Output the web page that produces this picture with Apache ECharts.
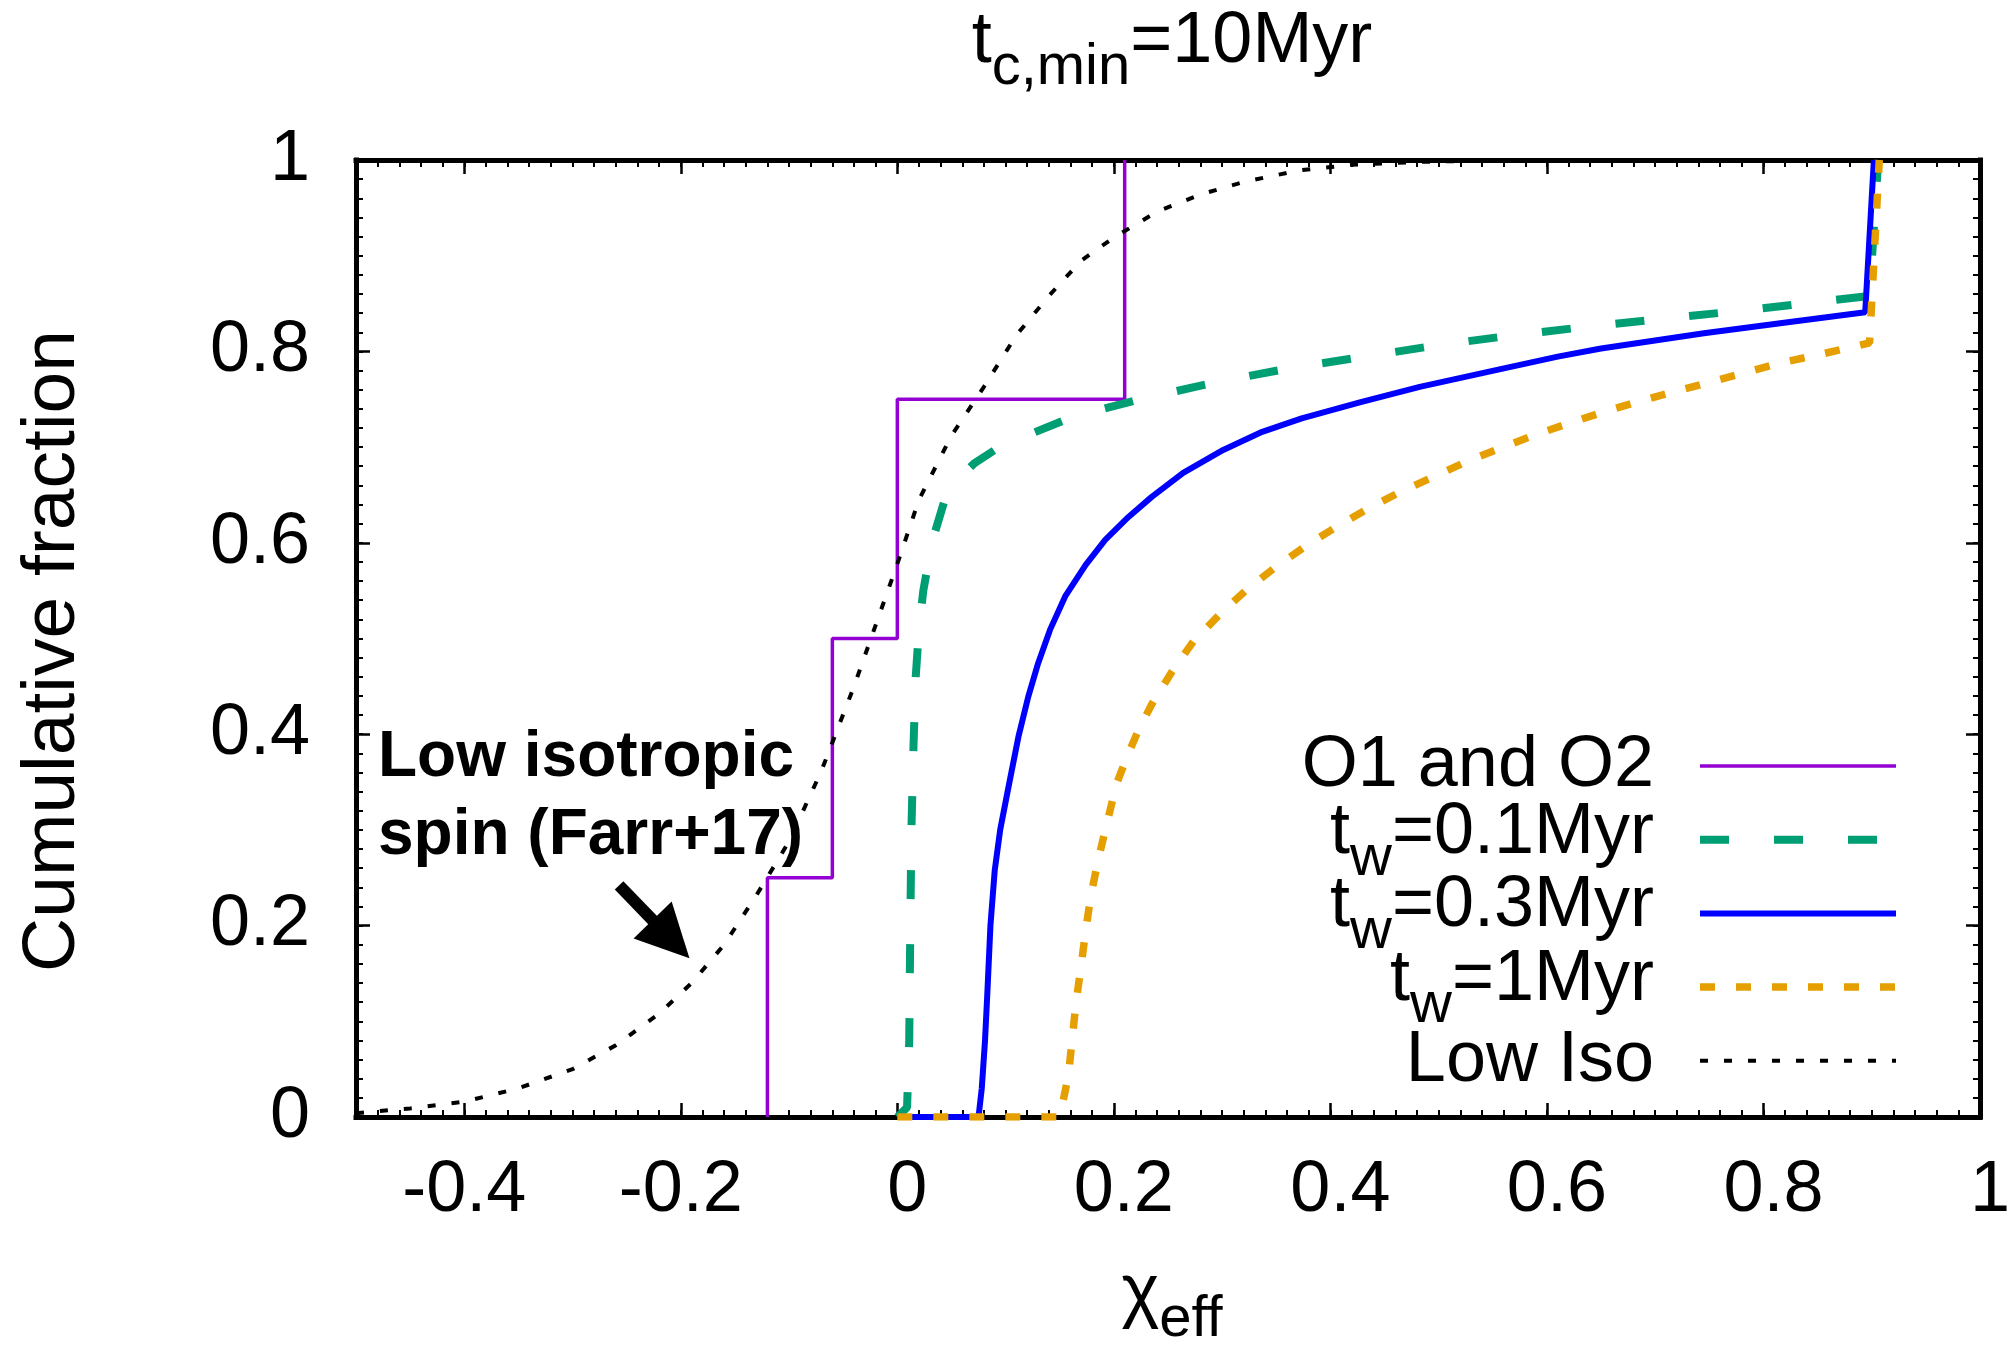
<!DOCTYPE html>
<html>
<head>
<meta charset="utf-8">
<title>t_c,min=10Myr</title>
<script src="https://cdn.jsdelivr.net/npm/echarts@6/dist/echarts.min.js"></script>
<style>
  html, body { margin: 0; padding: 0; background: #fff; }
  #chart { width: 2013px; height: 1347px; }
</style>
</head>
<body>
<div id="chart"></div>
<script>
const FONT = '"Liberation Sans", Arial, Helvetica, sans-serif';

// tick labels
const xTickVals = [-0.4, -0.2, 0, 0.2, 0.4, 0.6, 0.8, 1];
const yTickVals = [0, 0.2, 0.4, 0.6, 0.8, 1];

// O1 and O2 events (chi_eff), each one adds 1/4
const o1o2Chi = [-0.12, -0.06, 0.0, 0.21];

// t_w = 0.1 Myr
const tw01X = [0.0, 0.009, 0.011, 0.012, 0.013, 0.015, 0.017, 0.020, 0.024, 0.028, 0.035, 0.043, 0.055, 0.071, 0.090,
  0.1063, 0.1627, 0.228, 0.2953, 0.3608, 0.4316, 0.5025, 0.5698, 0.6388, 0.715, 0.784, 0.852, 0.898, 0.906];
const tw01Y = [0.0, 0.01, 0.08, 0.20, 0.30, 0.39, 0.46, 0.51, 0.55, 0.575, 0.612, 0.642, 0.665, 0.683, 0.697,
  0.706, 0.732, 0.751, 0.768, 0.782, 0.7945, 0.807, 0.817, 0.826, 0.835, 0.843, 0.852, 0.858, 1.0];

// t_w = 0.3 Myr
const tw03X = [0.0, 0.075, 0.078, 0.081, 0.083, 0.086, 0.090, 0.095, 0.1027, 0.1118, 0.1209, 0.130, 0.141, 0.155,
  0.174, 0.192, 0.2135, 0.235, 0.264, 0.301, 0.337, 0.3735, 0.428, 0.4825, 0.555, 0.610, 0.650, 0.745, 0.819,
  0.894, 0.902];
const tw03Y = [0.0, 0.0, 0.03, 0.08, 0.126, 0.200, 0.258, 0.300, 0.345, 0.397, 0.439, 0.474, 0.509, 0.544,
  0.577, 0.603, 0.627, 0.648, 0.673, 0.697, 0.716, 0.730, 0.747, 0.763, 0.781, 0.7945, 0.803, 0.819, 0.830,
  0.841, 1.0];

// t_w = 1 Myr
const tw1X = [0.0, 0.150, 0.158, 0.165, 0.170, 0.174, 0.179, 0.186, 0.1936, 0.2027, 0.2135, 0.2226, 0.2354, 0.2535,
  0.2735, 0.2971, 0.3226, 0.3498, 0.379, 0.4062, 0.4352, 0.4643, 0.4952, 0.5261, 0.557, 0.5897, 0.6206, 0.653,
  0.686, 0.718, 0.751, 0.784, 0.816, 0.849, 0.884, 0.898, 0.907];
const tw1Y = [0.0, 0.0, 0.043, 0.119, 0.160, 0.195, 0.233, 0.271, 0.307, 0.349, 0.380, 0.404, 0.432, 0.465,
  0.497, 0.5245, 0.551, 0.575, 0.598, 0.617, 0.636, 0.653, 0.669, 0.685, 0.699, 0.713, 0.725, 0.737,
  0.748, 0.758, 0.768, 0.778, 0.788, 0.796, 0.805, 0.809, 1.0];

// low isotropic spin (Farr+17)
const lowIsoX = [-0.5, -0.45, -0.40, -0.35, -0.30, -0.26, -0.22, -0.19, -0.16, -0.13, -0.10, -0.07, -0.04, -0.02,
  0.0, 0.02, 0.05, 0.08, 0.11, 0.14, 0.17, 0.20, 0.24, 0.28, 0.32, 0.37, 0.42, 0.48, 0.55, 0.65];
const lowIsoY = [0.004, 0.009, 0.016, 0.030, 0.050, 0.075, 0.108, 0.140, 0.180, 0.232, 0.288, 0.362, 0.450, 0.514,
  0.578, 0.645, 0.712, 0.763, 0.817, 0.858, 0.895, 0.919, 0.946, 0.964, 0.977, 0.989, 0.995, 0.998, 0.9995, 1.0];

// annotation arrow, data coords
const arrowFrom = [-0.257, 0.242];
const arrowTo = [-0.192, 0.166];

function pairs(xs, ys) {
  return xs.map((x, i) => [x, ys[i]]);
}

// cumulative step line for the observed events
const o1o2Pts = [];
o1o2Chi.forEach((x, i) => {
  o1o2Pts.push([x, i / o1o2Chi.length], [x, (i + 1) / o1o2Chi.length]);
});

const styles = {
  'O1 and O2': { color: '#9400d3', width: 3.5, type: 'solid' },
  't_w=0.1Myr': { color: '#009e73', width: 8, type: [29, 45] },
  't_w=0.3Myr': { color: '#0000ff', width: 6, type: 'solid' },
  't_w=1Myr': { color: '#e69f00', width: 7.5, type: [15, 21] },
  'Low Iso': { color: '#000000', width: 4, type: [8, 16] }
};
const legendText = {
  'O1 and O2': '{e|O1 and O2}',
  't_w=0.1Myr': '{a|t}{b|w}{c|=0.1Myr}',
  't_w=0.3Myr': '{a|t}{b|w}{c|=0.3Myr}',
  't_w=1Myr': '{a|t}{b|w}{c|=1Myr}',
  'Low Iso': '{e|Low Iso}'
};

function lineSeries(name, data) {
  return {
    name: name,
    type: 'line',
    data: data,
    symbol: 'none',
    showSymbol: false,
    xAxisIndex: 0,
    yAxisIndex: 0,
    lineStyle: styles[name],
    itemStyle: { color: styles[name].color },
    emphasis: { disabled: true }
  };
}

// gnuplot style numbers: positive x labels carry a leading blank
function fmtX(v) {
  const s = String(Math.round(v * 10) / 10);
  return v >= 0 ? ' ' + s : s;
}

function xAx(pos, major, labels) {
  return {
    type: 'value', position: pos, min: -0.5, max: 1, interval: 0.02,
    axisLine: { show: !major, onZero: false, lineStyle: { color: '#000', width: 5, cap: 'square' } },
    axisTick: major
      ? { show: true, inside: true, length: 14, customValues: xTickVals, lineStyle: { color: '#000', width: 2.5 } }
      : { show: true, inside: true, length: 7, lineStyle: { color: '#000', width: 2 } },
    axisLabel: labels
      ? { show: true, customValues: xTickVals, margin: 38, color: '#000', fontSize: 72, fontFamily: FONT,
          formatter: fmtX }
      : { show: false },
    splitLine: { show: false }
  };
}
function yAx(pos, major, labels) {
  return {
    type: 'value', position: pos, min: 0, max: 1, interval: 0.02,
    axisLine: { show: !major, onZero: false, lineStyle: { color: '#000', width: 5, cap: 'square' } },
    axisTick: major
      ? { show: true, inside: true, length: 14, customValues: yTickVals, lineStyle: { color: '#000', width: 2.5 } }
      : { show: true, inside: true, length: 7, lineStyle: { color: '#000', width: 2 } },
    axisLabel: labels
      ? { show: true, customValues: yTickVals, margin: 46, color: '#000', fontSize: 72, fontFamily: FONT,
          formatter: v => String(Math.round(v * 10) / 10) }
      : { show: false },
    splitLine: { show: false }
  };
}

const subRich = {
  t: { fontSize: 72, fontFamily: FONT, lineHeight: 72, fill: '#000' },
  s: { fontSize: 58, fontFamily: FONT, lineHeight: 72, padding: [52, 0, 0, 0], fill: '#000' }
};

const chart = echarts.init(document.getElementById('chart'));

const option = {
  animation: false,
  backgroundColor: '#fff',
  textStyle: { fontFamily: FONT },
  grid: { left: 356, right: 25, top: 160, bottom: 230, containLabel: false },
  xAxis: [xAx('bottom', false, true), xAx('bottom', true, false), xAx('top', false, false), xAx('top', true, false)],
  yAxis: [yAx('left', false, true), yAx('left', true, false), yAx('right', false, false), yAx('right', true, false)],
  legend: {
    orient: 'vertical',
    align: 'right',
    right: 113,
    top: 705,
    padding: 0,
    itemWidth: 196,
    itemHeight: 20,
    itemGap: -48.3,
    selectedMode: false,
    itemStyle: { opacity: 0 },
    data: Object.keys(styles).map(n => ({
      name: n,
      lineStyle: { color: styles[n].color, width: styles[n].width, type: styles[n].type, opacity: 1 }
    })),
    formatter: n => legendText[n],
    textStyle: {
      color: '#000', fontSize: 72, fontFamily: FONT,
      // fixed-size invisible box so each row has the same height
      padding: [25, 0, 25, 0],
      backgroundColor: 'rgba(255,255,255,0)',
      rich: {
        e: { fontSize: 72, fontFamily: FONT, lineHeight: 72, padding: [0, 41, 0, 0], color: '#000' },
        a: { fontSize: 72, fontFamily: FONT, lineHeight: 72, padding: [0, 0, 14, 0], color: '#000' },
        b: { fontSize: 58, fontFamily: FONT, lineHeight: 72, padding: [38, 0, 0, 0], color: '#000' },
        c: { fontSize: 72, fontFamily: FONT, lineHeight: 72, padding: [0, 41, 14, 0], color: '#000' }
      }
    }
  },
  series: [
    lineSeries('O1 and O2', o1o2Pts),
    lineSeries('t_w=0.1Myr', pairs(tw01X, tw01Y)),
    lineSeries('t_w=0.3Myr', pairs(tw03X, tw03Y)),
    lineSeries('t_w=1Myr', pairs(tw1X, tw1Y)),
    lineSeries('Low Iso', pairs(lowIsoX, lowIsoY))
  ],
  graphic: {
    elements: [
      {
        id: 'title', type: 'text', x: 1172, y: 6,
        style: { text: '{t|t}{s|c,min}{t|=10Myr}', rich: subRich, align: 'center', verticalAlign: 'top', fill: '#000' }
      },
      {
        id: 'xname', type: 'text', x: 1172, y: 1258,
        style: { text: '{t|χ}{s|eff}', rich: subRich, align: 'center', verticalAlign: 'top', fill: '#000' }
      },
      {
        id: 'yname', type: 'text', x: 53, y: 651, rotation: Math.PI / 2,
        style: { text: 'Cumulative fraction', fontSize: 75, fontFamily: FONT, fill: '#000',
                 align: 'center', verticalAlign: 'middle' }
      },
      {
        id: 'note', type: 'text', x: 378, y: 719,
        style: { text: 'Low isotropic\nspin (Farr+17)', fontSize: 64, fontWeight: 'bold', fontFamily: FONT,
                 lineHeight: 78, fill: '#000', align: 'left', verticalAlign: 'top' }
      }
    ]
  }
};

chart.setOption(option);

// arrow pointing at the Low Iso curve
const p0 = chart.convertToPixel({ seriesIndex: 4 }, arrowFrom);
const p1 = chart.convertToPixel({ seriesIndex: 4 }, arrowTo);
const dx = p1[0] - p0[0], dy = p1[1] - p0[1];
const len = Math.sqrt(dx * dx + dy * dy);
const ux = dx / len, uy = dy / len;
const headLen = 53, headHalf = 26.5;
const bx = p1[0] - ux * headLen, by = p1[1] - uy * headLen;

chart.setOption({
  graphic: {
    elements: [
      {
        id: 'arrowShaft', type: 'line',
        shape: { x1: p0[0], y1: p0[1], x2: bx + ux * 2, y2: by + uy * 2 },
        style: { stroke: '#000', lineWidth: 12 }
      },
      {
        id: 'arrowHead', type: 'polygon',
        shape: { points: [[p1[0], p1[1]], [bx - uy * headHalf, by + ux * headHalf], [bx + uy * headHalf, by - ux * headHalf]] },
        style: { fill: '#000' }
      }
    ]
  }
});
</script>
</body>
</html>
